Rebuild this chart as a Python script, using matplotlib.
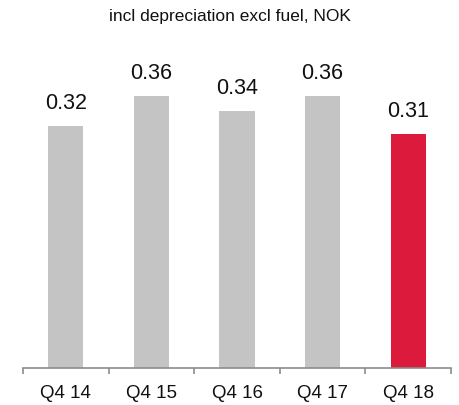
import numpy as np
import matplotlib
matplotlib.use('Agg')
import matplotlib.pyplot as plt

plt.rcParams['font.family'] = ['Liberation Sans', 'DejaVu Sans']

# data
quarters = ['Q4 14', 'Q4 15', 'Q4 16', 'Q4 17', 'Q4 18']
values = [0.32, 0.36, 0.34, 0.36, 0.31]
bar_colors = ['#c4c4c4', '#c4c4c4', '#c4c4c4', '#c4c4c4', '#dc1a3c']
title = 'incl depreciation excl fuel, NOK'

W, H = 459, 405
fig = plt.figure(figsize=(W / 100, H / 100), dpi=100)
# axes in pixel coords: x 23..451, y 60..368 (from top)
ax = fig.add_axes([23 / W, (H - 368) / H, (451 - 23) / W, (368 - 60) / H])

x = np.arange(len(quarters))
ax.bar(x, values, width=0.41, color=bar_colors)
ax.set_xlim(-0.5, len(quarters) - 0.5)
ax.set_ylim(0, 308 / 756)

for xi, v in zip(x, values):
    ax.annotate(f'{v:.2f}', (xi, v), xytext=(0, 12), textcoords='offset pixels',
                ha='center', va='bottom', fontsize=15.5, color='#111111')

for s in ['top', 'right', 'left']:
    ax.spines[s].set_visible(False)
ax.spines['bottom'].set_color('#8c8c8c')
ax.spines['bottom'].set_linewidth(1.2)
ax.set_yticks([])

ax.set_xticks(x)
ax.set_xticklabels(quarters, fontsize=13.5, color='#111111')
ax.tick_params(axis='x', which='major', length=0, pad=12)
ax.set_xticks(np.arange(-0.5, len(quarters)), minor=True)
ax.tick_params(axis='x', which='minor', length=4, width=1.2, color='#8c8c8c',
               direction='out')

fig.text(0.5, 1 - 16 / H, title, ha='center', va='center', fontsize=12.5,
         color='#111111')

fig.savefig('out.png', dpi=100)
